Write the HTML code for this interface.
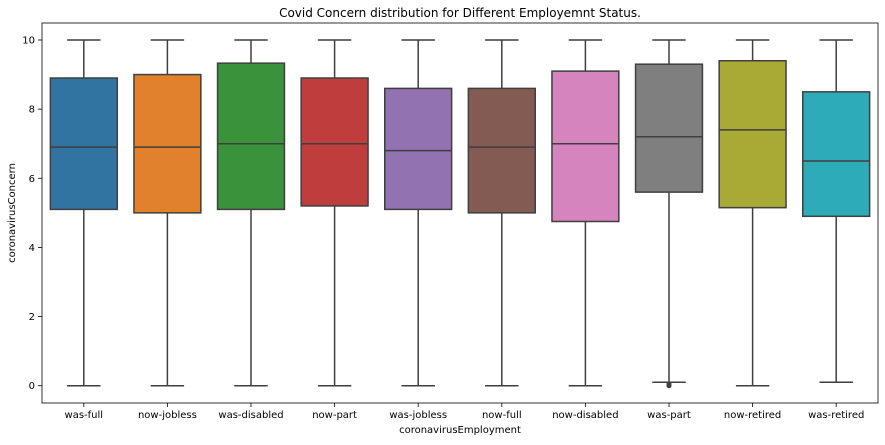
<!DOCTYPE html>
<html><head><meta charset="utf-8"><style>
body{margin:0;background:#fff;font-family:"DejaVu Sans","Liberation Sans",sans-serif}
text{font-family:"DejaVu Sans","Liberation Sans",sans-serif}
</style></head><body>
<svg id="c" width="885" height="441"></svg>
<script>
const categories=["was-full","now-jobless","was-disabled","now-part","was-jobless","now-full","now-disabled","was-part","now-retired","was-retired"];
const q1s=[5.1,5.0,5.1,5.2,5.1,5.0,4.75,5.6,5.15,4.9];
const medians=[6.9,6.9,7.0,7.0,6.8,6.9,7.0,7.2,7.4,6.5];
const q3s=[8.9,9.0,9.33,8.9,8.6,8.6,9.1,9.3,9.4,8.5];
const lowWhiskers=[0,0,0,0,0,0,0,0.1,0,0.1];
const highWhiskers=[10,10,10,10,10,10,10,10,10,10];
const outliers=[[],[],[],[],[],[],[],[0,0.05],[],[]];
const yTicks=[0,2,4,6,8,10];
const colors=["#3274a1","#e1812c","#3a923a","#c03d3e","#9372b2","#845b53","#d684bd","#7f7f7f","#a9aa35","#2eabb8"];
const L=42,R=878,T=23,B=403;
const y=v=>385.7-v*34.57;
const step=(R-L)/categories.length;
const xc=i=>L+step*(i+0.5);
const svg=document.getElementById('c');
const NS='http://www.w3.org/2000/svg';
function mk(tag,a,p){const e=document.createElementNS(NS,tag);for(const k in a)e.setAttribute(k,a[k]);(p||svg).appendChild(e);return e;}
let t=mk('text',{x:(L+R)/2,y:17,'text-anchor':'middle','font-size':12,fill:'#000'});t.textContent='Covid Concern distribution for Different Employemnt Status.';


const st='#3f3f3f';
categories.forEach((c,i)=>{
 const g=mk('g',{});
 
 
 const x=xc(i),w=step*0.8,hw=w/4;
 mk('line',{x1:x,x2:x,y1:y(q3s[i]),y2:y(highWhiskers[i]),stroke:st,'stroke-width':1.5},g);
 mk('line',{x1:x,x2:x,y1:y(q1s[i]),y2:y(lowWhiskers[i]),stroke:st,'stroke-width':1.5},g);
 mk('line',{x1:x-hw,x2:x+hw,y1:y(highWhiskers[i]),y2:y(highWhiskers[i]),stroke:st,'stroke-width':1.5},g);
 mk('line',{x1:x-hw,x2:x+hw,y1:y(lowWhiskers[i]),y2:y(lowWhiskers[i]),stroke:st,'stroke-width':1.5},g);
 mk('rect',{x:x-w/2,y:y(q3s[i]),width:w,height:y(q1s[i])-y(q3s[i]),fill:colors[i],stroke:st,'stroke-width':1.5},g);
 mk('line',{x1:x-w/2,x2:x+w/2,y1:y(medians[i]),y2:y(medians[i]),stroke:st,'stroke-width':1.5},g);
 outliers[i].forEach(v=>mk('circle',{cx:x,cy:y(v),r:2.5,fill:st},g));
 mk('line',{x1:x,x2:x,y1:B,y2:B+4,stroke:'#000','stroke-width':0.8});
 const tl=mk('text',{x:x,y:B+15,'text-anchor':'middle','font-size':10,fill:'#000'});tl.textContent=c;
 
 
});
yTicks.forEach(v=>{
 mk('line',{x1:L-4,x2:L,y1:y(v),y2:y(v),stroke:'#000','stroke-width':0.8});
 const tl=mk('text',{x:L-7,y:y(v)+3.5,'text-anchor':'end','font-size':10,fill:'#000'});tl.textContent=v;
 
 
});
const fr=mk('rect',{x:L,y:T,width:R-L,height:B-T,fill:'none',stroke:'#000','stroke-width':0.8});


let xt=mk('text',{x:(L+R)/2,y:433,'text-anchor':'middle','font-size':10,fill:'#000'});xt.textContent='coronavirusEmployment';


let yt=mk('text',{x:0,y:0,'text-anchor':'middle','font-size':10,fill:'#000',transform:`translate(15,${(T+B)/2}) rotate(-90)`});yt.textContent='coronavirusConcern';


</script>
</body></html>
